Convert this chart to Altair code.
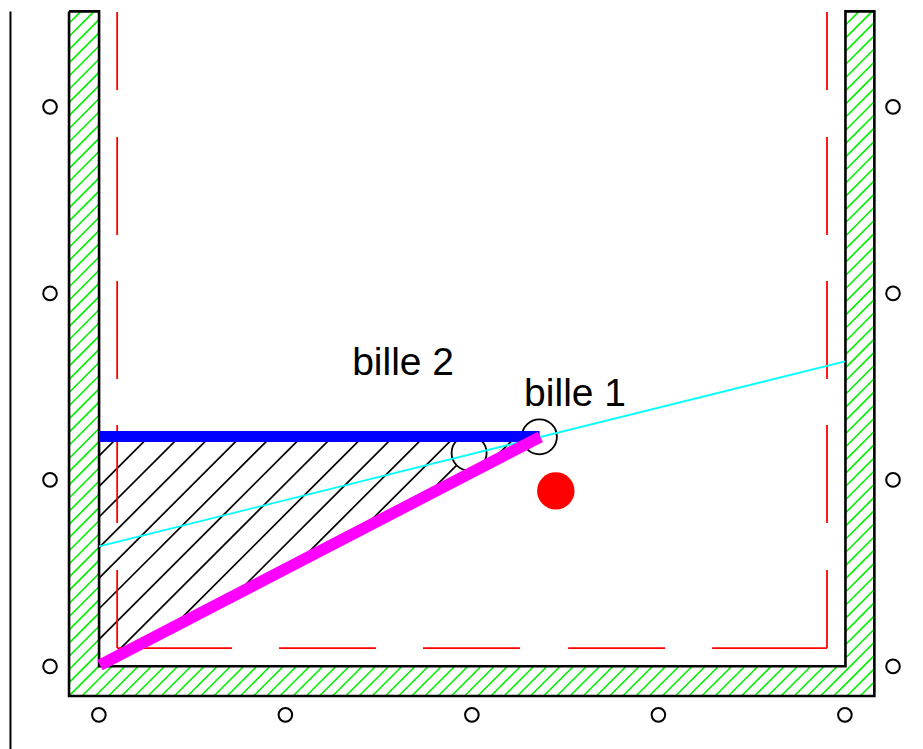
import altair as alt
import pandas as pd

# Coordinates are in grid units: one reference ring spacing = 10 units.
X_DOMAIN = [-4.853, 43.779]
Y_DOMAIN = [-4.43, 35.302]

ring_bottom_x = [0.02, 10.02, 20.02, 30.02, 40.02]
ring_bottom_y = [-2.6] * 5
ring_left_y = [0, 10, 20, 30]
ring_left_x = [-2.6] * 4
ring_right_x = [42.6] * 4

wall_x = [-1.58, -1.58, 41.6, 41.6, 40.05, 40.05, 0.03, 0.03, -1.58]
wall_y = [35.12, -1.59, -1.59, 35.12, 35.12, 0.01, 0.01, 35.12, 35.12]

frame_x = [-4.72, -4.72]
frame_y = [35.12, -4.43]

# red dashed limit: x, x2, y, y2
red_x = [1.0] * 5 + [39.06] * 5 + [1.0, 9.68, 17.40, 25.18, 32.90]
red_x2 = [1.0] * 5 + [39.06] * 5 + [7.16, 14.88, 22.60, 30.38, 39.06]
red_y = [35.09, 28.38, 20.66, 12.94, 5.17] * 2 + [0.98] * 5
red_y2 = [30.90, 23.13, 15.41, 7.69, 0.98] * 2 + [0.98] * 5

cyan_x = [0.03, 40.03]
cyan_y = [6.44, 16.35]
blue_x = [0.03, 23.65]
blue_y = [12.32, 12.32]
magenta_x = [0.08, 23.69]
magenta_y = [0.07, 12.31]

ball1 = (23.64, 12.31)
ball2 = (19.87, 11.44)
red_ball = (24.52, 9.41)

label_text = ["bille 2", "bille 1"]
label_x = [13.6, 22.82]
label_y = [15.6, 13.94]

# black hatch: offsets of the 45 degree lines inside the triangle
black_k = [11.26, 9.62, 7.98, 6.34, 4.70, 3.06, 1.42, -0.22, -1.86,
           -3.50, -5.14, -6.78, -8.42, -10.06]
tri_top = 12.32
tri_slope = 12.31 / 23.62

GREEN_PITCH = 0.7071
wall_rects = [(-1.58, 0.03, -1.59, 35.12), (0.03, 40.05, -1.59, 0.01), (40.05, 41.6, -1.59, 35.12)]


def clip_to_rect(k, rect):
    x0, x1, y0, y1 = rect
    a = max(x0, y0 - k)
    b = min(x1, y1 - k)
    return (a, a + k, b, b + k) if b > a else None


green_rows = []
for n in range(-62, 53):
    for r in wall_rects:
        seg = clip_to_rect(n * GREEN_PITCH, r)
        if seg:
            green_rows.append(dict(x=seg[0], y=seg[1], x2=seg[2], y2=seg[3]))

black_rows = []
for k in black_k:
    xa = 0.03 if k >= 0 else -k / (1 - tri_slope)
    ya = xa + k
    xb = tri_top - k
    black_rows.append(dict(x=xa, y=ya, x2=xb, y2=tri_top))

X = alt.X("x:Q", scale=alt.Scale(domain=X_DOMAIN, nice=False, zero=False), axis=None)
Y = alt.Y("y:Q", scale=alt.Scale(domain=Y_DOMAIN, nice=False, zero=False), axis=None)


def segs(df, **kw):
    return alt.Chart(pd.DataFrame(df)).mark_rule(**kw).encode(
        x=X, y=Y, x2="x2:Q", y2="y2:Q")


def poly(xs, ys, **kw):
    d = pd.DataFrame({"x": xs, "y": ys, "i": range(len(xs))})
    return alt.Chart(d).mark_line(strokeJoin="miter", **kw).encode(
        x=X, y=Y, order="i:Q")


def ring(xs, ys, size, fill=None, stroke="black", sw=2):
    d = pd.DataFrame({"x": xs, "y": ys})
    kw = dict(size=size, opacity=1)
    if fill:
        kw["fill"] = fill
        kw["fillOpacity"] = 1
    else:
        kw["filled"] = False
    return alt.Chart(d).mark_point(shape="circle", stroke=stroke, strokeWidth=sw, **kw).encode(x=X, y=Y)


green = segs(green_rows, color="#00f000", strokeWidth=1.6)
hatch = segs(black_rows, color="black", strokeWidth=1.7)
red = segs(dict(x=red_x, x2=red_x2, y=red_y, y2=red_y2), color="#ff0000", strokeWidth=1.8)
wall = poly(wall_x, wall_y, color="black", strokeWidth=2.6)
frame = poly(frame_x, frame_y, color="black", strokeWidth=2)
small = ring([ball2[0]], [ball2[1]], 1225, fill="white", sw=1.8)
cyan = poly(cyan_x, cyan_y, color="#00ffff", strokeWidth=1.8)
big = ring([ball1[0]], [ball1[1]], 1225, sw=1.8)
blue = poly(blue_x, blue_y, color="#0000ff", strokeWidth=11, strokeCap="butt")
magenta = poly(magenta_x, magenta_y, color="#ff00ff", strokeWidth=11.5, strokeCap="butt")
redball = alt.Chart(pd.DataFrame({"x": [red_ball[0]], "y": [red_ball[1]]})).mark_circle(
    size=1400, color="#ff0000", opacity=1).encode(x=X, y=Y)
rings = (ring(ring_bottom_x, ring_bottom_y, 185)
         + ring(ring_left_x, ring_left_y, 185)
         + ring(ring_right_x, ring_left_y, 185))
labels = alt.Chart(pd.DataFrame({"x": label_x, "y": label_y, "t": label_text})).mark_text(
    align="left", baseline="alphabetic", font="Liberation Sans", fontSize=39, color="black"
).encode(x=X, y=Y, text="t:N")

chart = alt.layer(green, hatch, red, wall, frame, small, big, cyan, blue, magenta,
                  redball, rings, labels).properties(
    width=907, height=741, padding=0,
    autosize=alt.AutoSizeParams(type="none"), background="white"
).configure_view(stroke=None)

chart.save("out.html", embed_options={"renderer": "svg", "actions": False})
